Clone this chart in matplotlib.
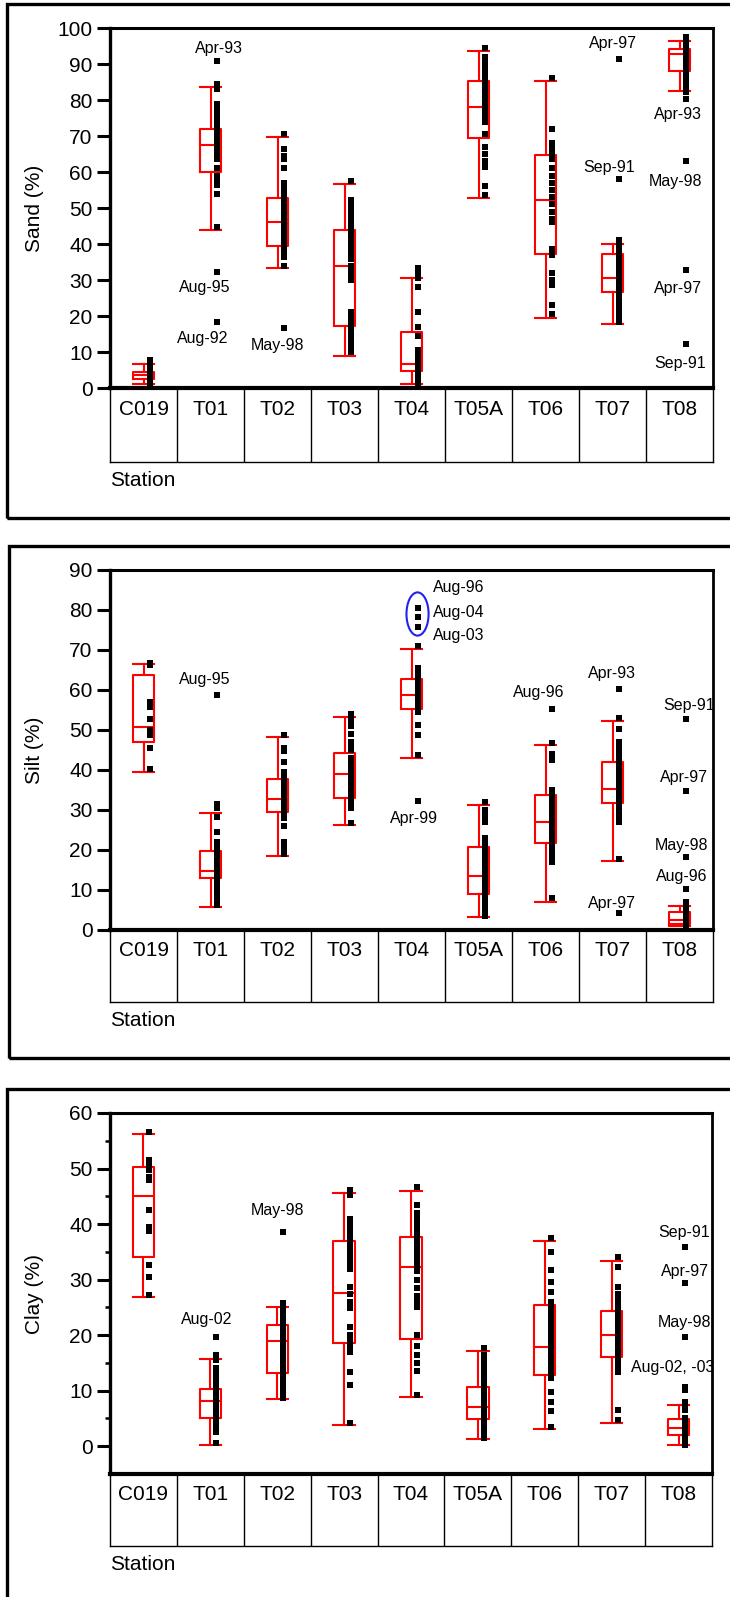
import numpy as np
import matplotlib.pyplot as plt
from matplotlib.patches import Ellipse, Rectangle

plt.rcParams['font.family'] = ['Liberation Sans', 'DejaVu Sans']

stations = ['C019', 'T01', 'T02', 'T03', 'T04', 'T05A', 'T06', 'T07', 'T08']

# box summaries per station: (whisker low, Q1, median, Q3, whisker high)
sand_box = [
    (1.0, 2.6, 3.6, 4.4, 6.6),
    (44.0, 60.0, 67.4, 71.9, 83.5),
    (33.3, 39.4, 46.1, 52.9, 69.6),
    (8.9, 17.2, 33.9, 43.9, 56.7),
    (1.0, 4.8, 6.7, 15.6, 30.6),
    (52.9, 69.5, 78.0, 85.3, 93.5),
    (19.5, 37.3, 52.2, 64.6, 85.3),
    (17.9, 26.7, 30.6, 37.3, 40.1),
    (82.5, 88.1, 92.7, 94.3, 96.4),
]
sand_points = [
    [7.7, 6.8, 6.0, 5.0, 4.3, 3.8, 3.2, 2.6, 2.0, 1.4, 1.0],
    [84.5, 83.0, 79.0, 77.5, 76.0, 75.0, 73.5, 72.5, 71.5, 70.5, 69.5, 68.5,
     67.5, 66.5, 65.5, 64.5, 63.5, 61.0, 59.0, 58.0, 56.5, 54.0, 44.7],
    [70.5, 66.5, 64.5, 63.5, 61.0, 57.0, 55.5, 54.0, 52.5, 51.5, 50.0, 49.0,
     48.0, 47.0, 46.0, 45.0, 44.0, 43.0, 42.0, 41.0, 40.0, 39.0, 37.5, 36.5, 34.0],
    [57.4, 52.2, 51.0, 50.4, 49.0, 47.2, 45.5, 44.0, 42.5, 41.3, 40.0, 39.0,
     37.5, 35.8, 34.0, 32.1, 31.0, 29.9, 21.0, 19.5, 18.0, 16.5, 15.0, 13.5,
     12.0, 11.0, 10.0],
    [33.3, 32.0, 30.5, 28.0, 21.0, 17.0, 14.5, 10.5, 9.0, 7.5, 6.0, 5.0, 4.0,
     3.0, 2.0, 1.2],
    [94.5, 92.0, 91.0, 90.0, 89.0, 88.0, 87.0, 86.0, 85.0, 84.0, 83.0, 82.0,
     81.0, 80.0, 79.0, 78.0, 77.0, 76.0, 75.0, 74.0, 70.5, 67.0, 65.0, 63.0,
     61.5, 56.0, 53.5],
    [86.0, 72.0, 68.0, 67.0, 66.0, 65.0, 63.5, 61.0, 59.0, 57.0, 55.0, 53.0,
     51.0, 49.0, 47.0, 46.0, 38.5, 37.0, 32.0, 30.0, 28.5, 23.0, 20.5],
    [41.0, 40.0, 39.0, 38.0, 37.0, 36.0, 35.0, 34.0, 33.0, 32.0, 31.0, 30.0,
     29.0, 28.0, 27.0, 26.0, 25.0, 24.0, 23.0, 22.0, 21.0, 20.0, 19.0, 18.3],
    [97.5, 97.0, 96.5, 96.0, 95.5, 95.0, 94.5, 94.0, 93.5, 93.0, 92.5, 92.0,
     91.5, 91.0, 90.5, 90.0, 89.0, 88.0, 87.0, 86.0, 85.0, 84.0, 83.0, 82.2],
]
# (station index, value, sampling date)
sand_outliers = [
    (1, 90.8, 'Apr-93'), (1, 32.2, 'Aug-95'), (1, 18.3, 'Aug-92'),
    (2, 16.7, 'May-98'), (7, 91.5, 'Apr-97'), (7, 58.0, 'Sep-91'),
    (8, 80.2, 'Apr-93'), (8, 63.0, 'May-98'), (8, 32.9, 'Apr-97'),
    (8, 12.1, 'Sep-91'),
]

silt_box = [
    (39.6, 47.1, 50.7, 63.8, 66.4),
    (5.7, 13.1, 14.8, 19.8, 29.2),
    (18.6, 29.6, 32.7, 37.7, 48.2),
    (26.2, 33.1, 39.1, 44.2, 53.3),
    (43.1, 55.2, 58.8, 62.8, 70.2),
    (3.2, 9.0, 13.6, 20.7, 31.3),
    (7.1, 21.7, 27.1, 33.8, 46.3),
    (17.3, 31.7, 35.2, 42.1, 52.3),
    (1.1, 1.5, 2.6, 4.6, 6.1),
]
silt_points = [
    [66.8, 66.2, 57.1, 55.8, 52.7, 50.0, 48.7, 45.6, 40.2],
    [31.5, 30.5, 28.3, 24.6, 22.0, 21.0, 20.0, 19.0, 18.0, 17.0, 16.0, 15.5,
     15.0, 14.5, 14.0, 13.5, 13.0, 12.0, 11.0, 10.0, 9.0, 8.0, 7.0, 6.2],
    [48.8, 45.5, 44.8, 42.0, 39.5, 38.0, 37.0, 36.0, 35.0, 34.0, 33.0, 32.0,
     31.0, 30.0, 29.0, 28.0, 26.0, 22.0, 21.0, 20.0, 19.0],
    [54.0, 52.5, 51.0, 49.0, 47.0, 46.0, 45.0, 43.0, 41.5, 40.0, 38.5, 37.0,
     35.5, 34.0, 33.0, 32.0, 31.0, 30.5, 26.8],
    [71.0, 65.5, 64.5, 63.5, 63.0, 62.0, 61.5, 61.0, 60.0, 59.5, 59.0, 58.0,
     57.5, 56.5, 55.5, 54.5, 51.2, 48.8, 43.8],
    [32.0, 30.0, 28.5, 27.0, 23.0, 22.0, 21.0, 20.0, 19.0, 18.0, 17.0, 16.0,
     15.0, 14.0, 13.0, 12.0, 11.0, 10.0, 9.0, 8.0, 7.0, 6.0, 5.0, 4.0, 3.5],
    [46.8, 44.0, 42.5, 35.0, 34.0, 33.0, 32.0, 31.0, 30.0, 29.0, 28.0, 27.0,
     26.0, 25.0, 24.0, 23.0, 22.0, 21.0, 20.0, 19.0, 18.0, 17.0, 7.9],
    [53.0, 50.2, 47.0, 46.0, 45.0, 44.0, 43.0, 42.0, 41.0, 40.0, 39.0, 38.0,
     37.0, 36.0, 35.5, 35.0, 34.0, 33.0, 32.0, 31.0, 30.0, 29.0, 28.0, 27.0, 17.8],
    [7.1, 6.0, 5.0, 4.0, 3.5, 3.0, 2.5, 2.0, 1.5, 1.2],
]
silt_outliers = [
    (1, 58.8, 'Aug-95'), (4, 80.6, 'Aug-96'), (4, 78.2, 'Aug-04'),
    (4, 75.7, 'Aug-03'), (4, 32.2, 'Apr-99'), (6, 55.3, 'Aug-96'),
    (7, 60.3, 'Apr-93'), (7, 4.2, 'Apr-97'), (8, 52.8, 'Sep-91'),
    (8, 34.8, 'Apr-97'), (8, 18.2, 'May-98'), (8, 10.3, 'Aug-96'),
]

clay_box = [
    (26.9, 34.1, 45.0, 50.3, 56.2),
    (0.2, 5.1, 8.2, 10.3, 15.7),
    (8.5, 13.2, 18.9, 21.8, 25.1),
    (3.9, 18.6, 27.6, 36.9, 45.6),
    (8.8, 19.3, 32.3, 37.7, 46.0),
    (1.3, 4.9, 7.0, 10.7, 17.1),
    (3.1, 12.9, 17.9, 25.4, 36.9),
    (4.1, 16.1, 20.0, 24.3, 33.4),
    (0.2, 2.0, 3.2, 4.9, 7.4),
]
clay_points = [
    [56.6, 51.5, 50.9, 49.7, 48.5, 47.9, 42.5, 39.5, 38.7, 32.7, 30.5, 27.3],
    [16.4, 15.5, 14.0, 13.0, 12.0, 11.0, 10.5, 10.0, 9.5, 9.0, 8.5, 8.0, 7.5,
     7.0, 6.5, 6.0, 5.5, 5.0, 4.5, 4.0, 3.0, 2.5, 0.5],
    [25.7, 25.0, 24.0, 23.0, 22.0, 21.0, 20.5, 20.0, 19.5, 19.0, 18.0, 17.0,
     16.0, 15.0, 14.0, 13.0, 12.0, 11.0, 10.0, 9.0, 8.6],
    [46.2, 45.2, 41.0, 40.0, 39.0, 38.0, 37.0, 36.0, 35.0, 34.0, 33.0, 32.0,
     28.7, 27.5, 26.0, 24.8, 21.5, 20.0, 19.0, 18.0, 17.0, 13.4, 11.0, 4.1],
    [46.7, 43.5, 42.0, 41.0, 40.0, 39.0, 38.0, 37.0, 36.0, 35.0, 34.0, 33.0,
     32.5, 31.5, 30.0, 28.5, 27.0, 26.0, 25.0, 20.0, 18.0, 16.5, 15.0, 13.5, 9.3],
    [17.7, 16.5, 15.8, 15.0, 14.0, 13.0, 12.0, 11.0, 10.0, 9.5, 9.0, 8.5, 8.0,
     7.5, 7.0, 6.5, 6.0, 5.5, 5.0, 4.5, 4.0, 3.0, 2.0, 1.5],
    [37.5, 35.0, 31.7, 29.6, 27.8, 26.0, 25.0, 24.0, 23.0, 22.0, 21.0, 20.0,
     19.0, 18.0, 17.0, 16.0, 15.0, 14.0, 13.0, 12.2, 9.8, 8.0, 6.3, 3.5],
    [34.0, 32.3, 28.7, 27.5, 26.5, 25.5, 24.5, 23.5, 22.5, 21.5, 20.5, 20.0,
     19.5, 19.0, 18.0, 17.0, 16.0, 15.0, 14.0, 13.4, 6.5, 4.7],
    [10.1, 8.0, 7.5, 6.5, 5.0, 4.5, 4.0, 3.5, 3.0, 2.5, 2.0, 1.5, 1.0, 0.5, 0.2],
]
clay_outliers = [
    (1, 19.7, 'Aug-02'), (2, 38.5, 'May-98'), (8, 35.9, 'Sep-91'),
    (8, 29.4, 'Apr-97'), (8, 19.7, 'May-98'), (8, 10.7, 'Aug-02, -03'),
]

# label placement relative to its point, in pixels (dx, dy, alignment)
sand_offsets = [(2, 13, 'center'), (-12, -15, 'center'), (-14, -16, 'center'),
                (-6, -18, 'center'), (-6, 15, 'center'), (-9, 12, 'center'),
                (-8, -15, 'center'), (-10, -20, 'center'), (-8, -19, 'center'),
                (-5, -19, 'center')]
silt_offsets = [(-12, 15, 'center'), (15, 20, 'left'), (15, 5, 'left'),
                (15, -8, 'left'), (-4, -17, 'center'), (-13, 16, 'center'),
                (-7, 15, 'center'), (-7, 10, 'center'), (4, 13, 'center'),
                (-2, 13, 'center'), (-4, 12, 'center'), (-4, 12, 'center')]
clay_offsets = [(-10, 17, 'center'), (-6, 22, 'center'), (0, 14, 'center'),
                (0, 11, 'center'), (0, 14, 'center'), (-12, 19, 'center')]

W, H = 730, 1597
DOT = 0.09  # points sit just right of the box centre
fig = plt.figure(figsize=(W / 100, H / 100), dpi=100)


def frac(l, t, r, b):
    return [l / W, 1 - b / H, (r - l) / W, (b - t) / H]


def panel(top, bottom, tab_bottom, right, frame, box, points, outliers,
          offsets, ylabel, ylim, yticks, minor=None):
    x = np.arange(len(stations))

    tab = fig.add_axes(frac(110, bottom, right, tab_bottom))
    tab.set_xlim(-0.5, len(stations) - 0.5)
    tab.set_ylim(0, 1)
    tab.set_xticks([])
    tab.set_yticks([])
    tab.spines['top'].set_visible(False)
    for s in ['left', 'right', 'bottom']:
        tab.spines[s].set_linewidth(1.0)
    tab.vlines(x[:-1] + 0.5, 0, 1, color='black', lw=1.0)
    for i, name in enumerate(stations):
        tab.text(i, 0.71, name, ha='center', va='center', fontsize=15)
    tab.text(0, -0.25, 'Station', transform=tab.transAxes,
             ha='left', va='center', fontsize=15)

    ax = fig.add_axes(frac(110, top, right, bottom))
    ax.set_zorder(2)
    ax.patch.set_alpha(0)
    stats = [dict(whislo=b[0], q1=b[1], med=b[2], q3=b[3], whishi=b[4])
             for b in box]
    red = dict(color='red', linewidth=1.5)
    ax.bxp(stats, positions=x, widths=0.32, capwidths=0.32, showfliers=False,
           boxprops=red, whiskerprops=red, capprops=red, medianprops=red)
    for i, vals in enumerate(points):
        ax.plot(np.full(len(vals), i + DOT), vals, 's', color='black',
                ms=3.8, mew=0, zorder=4)
    for (i, v, date), (dx, dy, ha) in zip(outliers, offsets):
        ax.plot(i + DOT, v, 's', color='black', ms=3.8, mew=0, zorder=4)
        ax.annotate(date, (i + DOT, v), xytext=(dx * 0.72, dy * 0.72),
                    textcoords='offset points', ha=ha, va='center',
                    fontsize=11.5, annotation_clip=False)

    ax.set_xlim(-0.5, len(stations) - 0.5)
    ax.set_ylim(*ylim)
    ax.set_xticks([])
    ax.set_yticks(yticks)
    ax.tick_params(axis='y', which='major', length=9.5, width=2.2,
                   labelsize=15, pad=3)
    if minor is not None:
        ax.set_yticks(minor, minor=True)
        ax.tick_params(axis='y', which='minor', length=3.5, width=1.8)
    ax.spines['left'].set_linewidth(2.4)
    ax.spines['bottom'].set_linewidth(3.0)
    ax.spines['top'].set_linewidth(2.2)
    ax.spines['right'].set_linewidth(2.0)
    ax.text(-0.126, 0.5, ylabel, transform=ax.transAxes, rotation=90,
            ha='center', va='center', fontsize=15)

    fl, ft, fb = frame
    fig.add_artist(Rectangle((fl / W, 1 - fb / H), (740 - fl) / W,
                             (fb - ft) / H, transform=fig.transFigure,
                             fill=False, lw=2.4, color='black'))
    return ax


panel(28, 388, 462, 713, (7, 4, 518), sand_box, sand_points, sand_outliers,
      sand_offsets, 'Sand (%)', (0, 100), np.arange(0, 101, 10))

ax2 = panel(570, 930, 1002, 713, (9, 546, 1058), silt_box, silt_points,
            silt_outliers, silt_offsets, 'Silt (%)', (0, 90),
            np.arange(0, 91, 10))
# ring round the three late-summer T04 samples
ax2.add_patch(Ellipse((4 + DOT, 79.0), 0.33, 10.8, fill=False,
                      edgecolor='#2222ee', lw=1.5, zorder=5))

panel(1113, 1474, 1546, 712, (7, 1089, 1610), clay_box, clay_points,
      clay_outliers, clay_offsets, 'Clay (%)', (-5, 60),
      np.arange(0, 61, 10), minor=np.arange(5, 60, 10))

fig.savefig('out.png', dpi=100)
